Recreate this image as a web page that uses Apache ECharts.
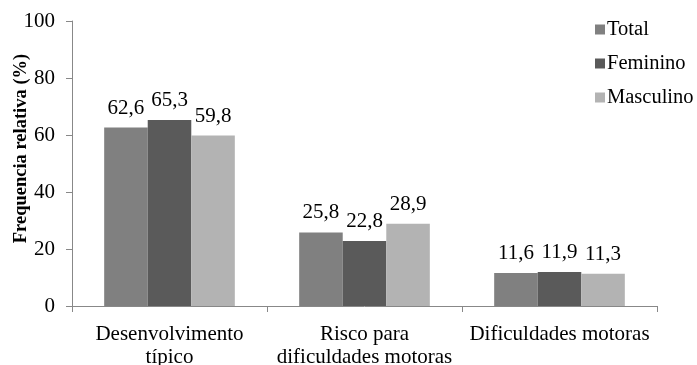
<!DOCTYPE html>
<html>
<head>
<meta charset="utf-8">
<script src="https://cdn.jsdelivr.net/npm/echarts@6/dist/echarts.min.js"></script>
<style>
  html, body { margin: 0; padding: 0; background: #fff; }
  #chart { width: 697px; height: 365px; }
</style>
</head>
<body>
<div id="chart"></div>
<script>
// dados do gráfico
const categorias = ['Desenvolvimento\ntípico', 'Risco para\ndificuldades motoras', 'Dificuldades motoras'];
const total = [62.6, 25.8, 11.6];
const feminino = [65.3, 22.8, 11.9];
const masculino = [59.8, 28.9, 11.3];
const yTicks = [0, 20, 40, 60, 80, 100];

const fonte = 'Times New Roman, Liberation Serif, DejaVu Serif, serif';
const fmt = (p) => String(p.value).replace('.', ',');

const chart = echarts.init(document.getElementById('chart'));

function serie(name, data, color) {
  return {
    name: name,
    type: 'bar',
    data: data,
    barGap: '0%',
    barCategoryGap: '33%',
    itemStyle: {color: color},
    label: {
      show: true,
      position: 'top',
      distance: 9,
      formatter: fmt,
      color: '#000',
      fontFamily: fonte,
      fontSize: 21
    }
  };
}

chart.setOption({
  backgroundColor: '#fff',
  animation: false,
  textStyle: {fontFamily: fonte},
  grid: {left: 72, right: 40, top: 21, bottom: 59, containLabel: false, outerBoundsMode: 'none'},
  legend: {
    orient: 'vertical',
    left: 590,
    top: 14,
    itemWidth: 10,
    itemHeight: 10,
    itemGap: 13,
    icon: 'rect',
    textStyle: {color: '#000', fontFamily: fonte, fontSize: 20.5, padding: [0, 0, 0, -3]},
    data: ['Total', 'Feminino', 'Masculino']
  },
  xAxis: {
    type: 'category',
    data: categorias,
    axisLine: {lineStyle: {color: '#888', width: 1}},
    axisTick: {show: true, length: 6, lineStyle: {color: '#888'}},
    axisLabel: {color: '#000', fontFamily: fonte, fontSize: 21, margin: 17, lineHeight: 23, interval: 0}
  },
  yAxis: {
    type: 'value',
    min: yTicks[0],
    max: yTicks[yTicks.length - 1],
    interval: 20,
    name: 'Frequencia relativa (%)',
    nameLocation: 'middle',
    nameGap: 41,
    nameMoveOverlap: false,
    nameTextStyle: {color: '#000', fontFamily: fonte, fontSize: 18.5, fontWeight: 'bold', padding: [0, 0, 0, 30]},
    axisLine: {show: true, lineStyle: {color: '#888', width: 1}},
    axisTick: {show: true, length: 6, lineStyle: {color: '#888'}},
    splitLine: {show: false},
    axisLabel: {color: '#000', fontFamily: fonte, fontSize: 21, margin: 17}
  },
  series: [
    serie('Total', total, '#808080'),
    serie('Feminino', feminino, '#5a5a5a'),
    serie('Masculino', masculino, '#b3b3b3')
  ]
});
</script>
</body>
</html>
